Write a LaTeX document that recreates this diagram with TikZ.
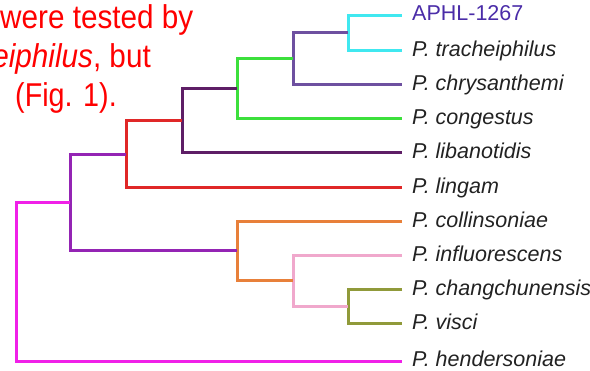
\documentclass[tikz,border=0pt]{standalone}
\usepackage{fontspec}
\newfontfamily\arial{Liberation Sans}
\definecolor{cyanbr}{HTML}{40E8F0}
\definecolor{lavbr}{HTML}{6E50A0}
\definecolor{greenbr}{HTML}{3CE03C}
\definecolor{plumbr}{HTML}{5E1E66}
\definecolor{redbr}{HTML}{E02828}
\definecolor{violetbr}{HTML}{9424B4}
\definecolor{magentabr}{HTML}{F020E8}
\definecolor{orangebr}{HTML}{E8803A}
\definecolor{pinkbr}{HTML}{F0A8CC}
\definecolor{olivebr}{HTML}{909A3A}
\definecolor{labelgray}{HTML}{222222}
\definecolor{strainblue}{HTML}{4A2CA8}
\definecolor{notered}{HTML}{FF0000}
\begin{document}
\begin{tikzpicture}[x=1pt,y=-1pt,
  branch/.style={line width=3pt,line join=miter},
  taxon/.style={anchor=base west,inner sep=0pt,text=labelgray,
    font=\arial\itshape\fontsize{21.5}{25}\selectfont},
  strain/.style={taxon,text=strainblue,font=\arial\fontsize{21.5}{25}\selectfont},
  note/.style={inner sep=0pt,text=notered,font=\arial\fontsize{33}{39}\selectfont}]
\useasboundingbox (0,0) rectangle (590,371);
\clip (0,0) rectangle (590,371);

% caption fragment
\node[note,anchor=base west] (n1) at (0,29) {\scalebox{0.9}[1]{were tested by}};
\node[note,anchor=base east] (n2) at (151,68) {\scalebox{0.9}[1]{\itshape eiphilus\upshape, but}};
\node[note,anchor=base west] (n3) at (15,107) {\scalebox{0.87}[1]{(Fig. 1).}};

% branch tips
\coordinate (t1) at (402,16);
\coordinate (t2) at (402,51);
\coordinate (t3) at (402,85);
\coordinate (t4) at (402,119);
\coordinate (t5) at (402,153);
\coordinate (t6) at (402,188);
\coordinate (t7) at (402,222);
\coordinate (t8) at (402,256);
\coordinate (t9) at (402,290);
\coordinate (t10) at (402,324);
\coordinate (t11) at (402,362);

% internal nodes
\coordinate (cy) at (348,33);
\coordinate (lv) at (293,59);
\coordinate (gr) at (237,89);
\coordinate (pl) at (182,121);
\coordinate (rd) at (126,155);
\coordinate (vi) at (70,203);
\coordinate (og) at (237,251);
\coordinate (pk) at (293,281);
\coordinate (ol) at (348,307);
\coordinate (mg) at (16,282);

% branches
\draw[branch,cyanbr]    (t1) -| (cy) |- (t2);
\draw[branch,lavbr]     (cy) -| (lv) |- (t3);
\draw[branch,greenbr]   (lv) -| (gr) |- (t4);
\draw[branch,plumbr]    (gr) -| (pl) |- (t5);
\draw[branch,redbr]     (pl) -| (rd) |- (t6);
\draw[branch,olivebr]   (t9) -| (ol) |- (t10);
\draw[branch,pinkbr]    (t8) -| (pk) |- (ol);
\draw[branch,orangebr]  (t7) -| (og) |- (pk);
\draw[branch,violetbr]  (rd) -| (vi) |- (og);
\draw[branch,magentabr] (vi) -| (mg) |- (t11);

% taxon labels
\node[strain] (L1) at ([xshift=10pt,yshift=-5pt]t1) {APHL-1267};
\node[taxon] (L2) at ([xshift=10pt,yshift=-6pt]t2) {P. tracheiphilus};
\node[taxon] (L3) at ([xshift=10pt,yshift=-6pt]t3) {P. chrysanthemi};
\node[taxon] (L4) at ([xshift=10pt,yshift=-6pt]t4) {P. congestus};
\node[taxon] (L5) at ([xshift=10pt,yshift=-6pt]t5) {P. libanotidis};
\node[taxon] (L6) at ([xshift=10pt,yshift=-6pt]t6) {P. lingam};
\node[taxon] (L7) at ([xshift=10pt,yshift=-6pt]t7) {P. collinsoniae};
\node[taxon] (L8) at ([xshift=10pt,yshift=-6pt]t8) {P. influorescens};
\node[taxon] (L9) at ([xshift=10pt,yshift=-6pt]t9) {P. changchunensis};
\node[taxon] (L10) at ([xshift=10pt,yshift=-6pt]t10) {P. visci};
\node[taxon] (L11) at ([xshift=10pt,yshift=-5pt]t11) {P. hendersoniae};
\end{tikzpicture}
\end{document}
